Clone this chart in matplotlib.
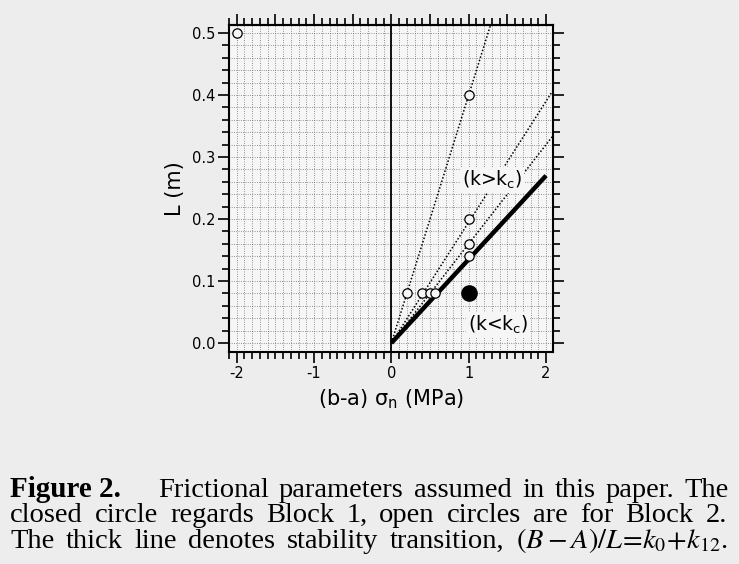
import matplotlib
matplotlib.use("Agg")
import matplotlib.pyplot as plt
from matplotlib.ticker import MultipleLocator, FuncFormatter

# Block 2 parameters (open circles): (b-a)*sigma_n [MPa], L [m]
block2_x = [-2.0, 0.2, 0.4, 0.5, 0.57, 1.0, 1.0, 1.0, 1.0]
block2_L = [0.5, 0.08, 0.08, 0.08, 0.08, 0.40, 0.20, 0.16, 0.14]

# Block 1 parameters (closed circle)
block1_x = [1.0]
block1_L = [0.08]

# L / ((b-a)sigma_n) ratios of the dotted guide lines
guide_slopes = [0.40, 0.195, 0.16]

# stability transition (thick line) end points
transition_x = [0.0, 2.0]
transition_L = [0.0, 0.27]

W, H = 739, 564
fig = plt.figure(figsize=(W / 100, H / 100), dpi=100)
fig.patch.set_facecolor("#ededed")
bg = "#f6f6f6"

ax = fig.add_axes([229 / W, 1 - 352 / H, 324 / W, 327 / H])
ax.set_facecolor(bg)
ax.set_xlim(-2.1, 2.09)
ax.set_ylim(-0.0145, 0.513)

sans = "DejaVu Sans"

ax.xaxis.set_major_locator(MultipleLocator(1))
ax.xaxis.set_minor_locator(MultipleLocator(0.1))
ax.yaxis.set_major_locator(MultipleLocator(0.1))
ax.yaxis.set_minor_locator(MultipleLocator(0.02))
ax.xaxis.set_major_formatter(FuncFormatter(lambda v, p: "%d" % round(v)))
ax.yaxis.set_major_formatter(FuncFormatter(lambda v, p: "%.1f" % v))

ax.grid(which="both", linestyle=(0, (1, 2)), linewidth=0.55, color="0.35")
ax.set_axisbelow(True)

ax.tick_params(which="both", direction="out", right=True, top=False,
               width=1.2, labelsize=10.5)
ax.tick_params(which="major", length=8, pad=2)
ax.tick_params(which="minor", length=5)
for lab in ax.get_xticklabels() + ax.get_yticklabels():
    lab.set_family(sans)

top = ax.secondary_xaxis("top")
top.xaxis.set_major_locator(MultipleLocator(0.5))
top.xaxis.set_minor_locator(MultipleLocator(0.1))
top.tick_params(which="both", direction="out", width=1.2, labeltop=False)
top.tick_params(which="major", length=8)
top.tick_params(which="minor", length=5)

for sp in list(ax.spines.values()) + list(top.spines.values()):
    sp.set_linewidth(1.5)

# zero line
ax.axvline(0, color="black", lw=1.3, zorder=2)

# dotted guide lines through the Block 2 points
for s in guide_slopes:
    ax.plot([0, 2.1], [0, 2.1 * s], linestyle=(0, (1, 1.3)), color="black",
            lw=1.1, zorder=3)

ax.plot(transition_x, transition_L, color="black", lw=3.2,
        solid_capstyle="butt", zorder=4)

ax.scatter(block2_x, block2_L, s=45, facecolors=bg,
           edgecolors="black", linewidths=0.9, zorder=5, clip_on=False)
ax.scatter(block1_x, block1_L, s=120, color="black", zorder=5)

box = dict(facecolor=bg, edgecolor="none", pad=1.5)
ax.text(1.30, 0.263, r"(k>k$_\mathregular{c}$)", fontsize=13.5, family=sans,
        ha="center", va="center", zorder=6, bbox=box)
ax.text(1.38, 0.029, r"(k<k$_\mathregular{c}$)", fontsize=13.5, family=sans,
        ha="center", va="center", zorder=6, bbox=box)

ax.set_xlabel(r"(b-a) σ$_\mathregular{n}$ (MPa)", fontsize=15,
              family=sans, labelpad=5)
ax.set_ylabel("L (m)", fontsize=15, family=sans)
ax.yaxis.set_label_coords(-0.135, 0.5)

# caption, justified word by word
serif = "Liberation Serif"
cap_fs = 20.5
renderer = fig.canvas.get_renderer()


def justify(tokens, baseline, x0, x1):
    arts = []
    for s, kw in tokens:
        arts.append(fig.text(0, 1 - baseline / H, s, fontsize=cap_fs,
                             family=serif, va="baseline",
                             math_fontfamily="stix", **kw))
    widths = [a.get_window_extent(renderer).width for a in arts]
    gap = (x1 - x0 - sum(widths)) / max(len(arts) - 1, 1)
    x = x0
    for a, w in zip(arts, widths):
        a.set_x(x / W)
        x += w + gap


line1 = "Frictional parameters assumed in this paper. The"
line2 = "closed circle regards Block 1, open circles are for Block 2."
line3 = "The thick line denotes stability transition,"
fig.text(10 / W, 1 - 497 / H, "Figure 2.", fontsize=cap_fs + 0.5,
         family=serif, weight="bold", va="baseline")
justify([(w, {}) for w in line1.split()], 497, 158, 729)
justify([(w, {}) for w in line2.split()], 522, 10, 727)
justify([(w, {}) for w in line3.split()]
        + [(r"$(B-A)/L\!=\!k_0\!+\!k_{12}$.", {})], 548, 10, 728)

fig.savefig("out.png", dpi=100, facecolor=fig.get_facecolor())
